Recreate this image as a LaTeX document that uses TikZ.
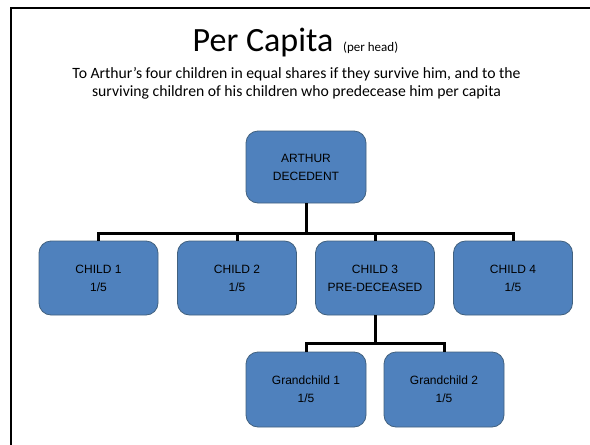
\documentclass[tikz,border=0pt]{standalone}
\usepackage{fontspec}
\setmainfont{Carlito}
\newfontfamily\boxfont{Liberation Sans}
\definecolor{boxblue}{HTML}{4F81BD}
\definecolor{boxedge}{HTML}{41617F}
\begin{document}
\begin{tikzpicture}[x=1pt,y=-1pt,
  famnode/.style={draw=boxedge, line width=0.8pt, fill=boxblue, rounded corners=12pt,
    minimum width=119pt, minimum height=74pt, align=center, inner sep=0pt,
    font=\boxfont\fontsize{12}{18}\selectfont, text=black},
  link/.style={line width=3pt, draw=black}]
\useasboundingbox (0,0) rectangle (590,445);
\fill[white] (0,0) rectangle (590,445);
\draw[line width=2.5pt] (11,445) -- (11,8) -- (590,8);
\node[anchor=base west, inner sep=0pt, font=\fontsize{34}{38}\selectfont] (title) at (192.5,51) {Per Capita};
\node[anchor=base west, inner sep=0pt, font=\fontsize{13}{15}\selectfont] (sub) at (343,51) {(per head)};
\node[anchor=base, inner sep=0pt, font=\fontsize{15.7}{18}\selectfont] (l1) at (296.5,78) {To Arthur’s four children in equal shares if they survive him, and to the};
\node[anchor=base, inner sep=0pt, font=\fontsize{15.7}{18}\selectfont] (l2) at (296.5,96) {surviving children of his children who predecease him per capita};
\node[famnode, minimum width=120pt, minimum height=72pt] (arthur) at (306,167) {ARTHUR\\DECEDENT};
\node[famnode] (c1) at (98.5,278) {CHILD 1\\1/5};
\node[famnode] (c2) at (237,278) {CHILD 2\\1/5};
\node[famnode] (c3) at (375,278) {CHILD 3\\PRE-DECEASED};
\node[famnode] (c4) at (513,278) {CHILD 4\\1/5};
\node[famnode, minimum width=120pt, minimum height=75pt] (g1) at (306,389.5) {Grandchild 1\\1/5};
\node[famnode, minimum width=120pt, minimum height=75pt] (g2) at (444,389.5) {Grandchild 2\\1/5};
\coordinate (bus) at (306,233);
\coordinate (gbus) at (375,343);
\draw[link] (arthur.south) -- (bus);
\draw[link] (c1.north) -- (c1.north |- bus) -- (c4.north |- bus) -- (c4.north);
\draw[link] (c2.north) -- (c2.north |- bus);
\draw[link] (c3.north) -- (c3.north |- bus);
\draw[link] (c3.south) -- (gbus);
\draw[link] (g1.north) -- (g1.north |- gbus) -- (g2.north |- gbus) -- (g2.north);
\end{tikzpicture}
\end{document}
